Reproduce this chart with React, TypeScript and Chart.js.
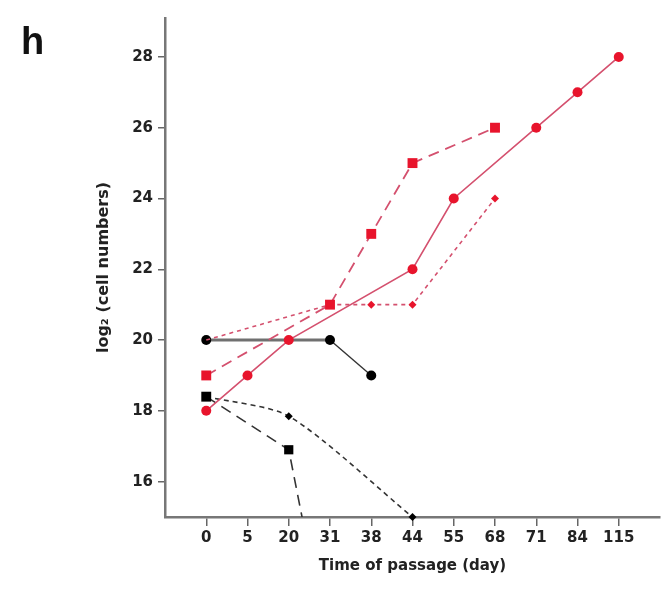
import { useEffect, useRef } from 'react';
import { Chart, registerables } from 'chart.js';
Chart.register(...registerables);

const days = ['0', '5', '20', '31', '38', '44', '55', '68', '71', '84', '115'];
const yTicks = [16, 18, 20, 22, 24, 26, 28];
// values aligned with days (null = no measurement)
const redSolidCircles = [18, 19, 20, null, null, 22, 24, null, 26, 27, 28];
const redDashedSquares = [19, null, null, 21, 23, 25, null, 26, null, null, null];
const redDottedDiamonds = [20, null, null, 21, 21, 21, null, 24, null, null, null];
const blackSolidCircles = [20, null, null, 20, 19, null, null, null, null, null, null];
const blackDashedSquares = [18.4, null, 16.9, 11, null, null, null, null, null, null, null];
const blackDottedDiamonds = [18.4, null, 17.85, null, null, 15, null, null, null, null, null];

const RED = '#e8142c';
const PINK = '#d4506e';
const DARK = '#333333';

const toPts = (arr: (number | null)[]) =>
  arr.map((v, i) => (v === null ? null : { x: i, y: v })).filter((p) => p !== null) as { x: number; y: number }[];

const panelLabel = {
  id: 'panelLabel',
  afterDraw(chart: any) {
    const ctx = chart.ctx;
    ctx.save();
    ctx.fillStyle = '#111';
    ctx.font = 'bold 38px "Liberation Sans", Arial, sans-serif';
    ctx.textBaseline = 'alphabetic';
    ctx.textAlign = 'left';
    ctx.fillText('h', 21, 54);
    ctx.restore();
  },
};

export default function App() {
  const ref = useRef<HTMLCanvasElement | null>(null);
  useEffect(() => {
    if (!ref.current) return;
    const font = { family: 'DejaVu Sans', weight: 'bold' as const, size: 15 };
    const chart = new Chart(ref.current, {
      type: 'line',
      plugins: [panelLabel],
      data: {
        datasets: [
          {
            data: toPts(redSolidCircles),
            borderColor: PINK,
            borderWidth: 1.6,
            pointStyle: 'circle',
            pointRadius: 5,
            pointBackgroundColor: RED,
            pointBorderColor: RED,
            pointBorderWidth: 0,
          },
          {
            data: toPts(redDashedSquares),
            borderColor: PINK,
            borderWidth: 1.8,
            borderDash: [11, 7],
            pointStyle: 'rect',
            pointRadius: 7,
            pointBackgroundColor: RED,
            pointBorderColor: RED,
            pointBorderWidth: 0,
          },
          {
            data: toPts(redDottedDiamonds),
            borderColor: PINK,
            borderWidth: 1.6,
            borderDash: [4, 4],
            pointStyle: 'rectRot',
            pointRadius: (c: any) => (c.dataIndex === 0 ? 0 : 4),
            pointBackgroundColor: RED,
            pointBorderColor: RED,
            pointBorderWidth: 0,
          },
          {
            data: toPts(blackSolidCircles),
            borderColor: '#707070',
            borderWidth: 3,
            segment: {
              borderWidth: (c: any) => (c.p0DataIndex === 0 ? 3 : 1.4),
              borderColor: (c: any) => (c.p0DataIndex === 0 ? '#707070' : DARK),
            },
            pointStyle: 'circle',
            pointRadius: 5,
            pointBackgroundColor: '#000',
            pointBorderColor: '#000',
            pointBorderWidth: 0,
          },
          {
            data: toPts(blackDashedSquares),
            borderColor: DARK,
            borderWidth: 1.6,
            borderDash: [11, 7],
            pointStyle: 'rect',
            pointRadius: (c: any) => (c.dataIndex === 0 ? 7 : c.dataIndex === 1 ? 6.5 : 0),
            pointBackgroundColor: '#000',
            pointBorderColor: '#000',
            pointBorderWidth: 0,
            clip: { left: 10, top: 10, right: 10, bottom: 0 } as any,
          },
          {
            data: toPts(blackDottedDiamonds),
            borderColor: DARK,
            borderWidth: 1.6,
            borderDash: [5, 4],
            tension: 0.25,
            pointStyle: 'rectRot',
            pointRadius: (c: any) => (c.dataIndex === 0 ? 0 : 4),
            pointBackgroundColor: '#000',
            pointBorderColor: '#000',
            pointBorderWidth: 0,
            clip: false as any,
          },
        ],
      },
      options: {
        responsive: false,
        animation: false,
        spanGaps: true,
        layout: { padding: { left: 0, top: 18, right: 8, bottom: 0 } },
        plugins: { legend: { display: false }, tooltip: { enabled: false } },
        scales: {
          x: {
            type: 'linear',
            min: -1,
            max: 11,
            afterBuildTicks: (s: any) => {
              s.ticks = days.map((_, i) => ({ value: i }));
            },
            afterFit: (s: any) => {
              s.height = 80;
            },
            ticks: {
              autoSkip: false,
              maxRotation: 0,
              padding: 3,
              color: '#222',
              font,
              callback: (v: any) => days[v as number] ?? '',
            },
            grid: { drawOnChartArea: false, drawTicks: true, tickLength: 9, color: '#666', lineWidth: 1.5 },
            border: { display: true, color: '#777', width: 2.5 },
            title: {
              display: true,
              text: 'Time of passage (day)',
              color: '#222',
              font: { family: 'DejaVu Sans', weight: 'bold', size: 15 },
              padding: { top: 0, bottom: 22 },
            },
          },
          y: {
            type: 'linear',
            min: 15,
            max: 29.1,
            afterBuildTicks: (s: any) => {
              s.ticks = yTicks.map((v) => ({ value: v }));
            },
            afterFit: (s: any) => {
              s.width = 165;
            },
            ticks: { padding: 5, color: '#222', font },
            grid: { drawOnChartArea: false, drawTicks: true, tickLength: 7, color: '#666', lineWidth: 1.5 },
            border: { display: true, color: '#777', width: 2.5 },
            title: {
              display: true,
              text: 'log₂ (cell numbers)',
              color: '#222',
              font: { family: 'DejaVu Sans', weight: 'bold', size: 16 },
              padding: { top: 94, bottom: 0 },
            },
          },
        },
      },
    });
    return () => chart.destroy();
  }, []);
  return (
    <div style={{ position: 'absolute', left: 0, top: 0, width: 668, height: 597, background: '#fff' }}>
      <canvas ref={ref} width={668} height={597} style={{ display: 'block' }} />
    </div>
  );
}
